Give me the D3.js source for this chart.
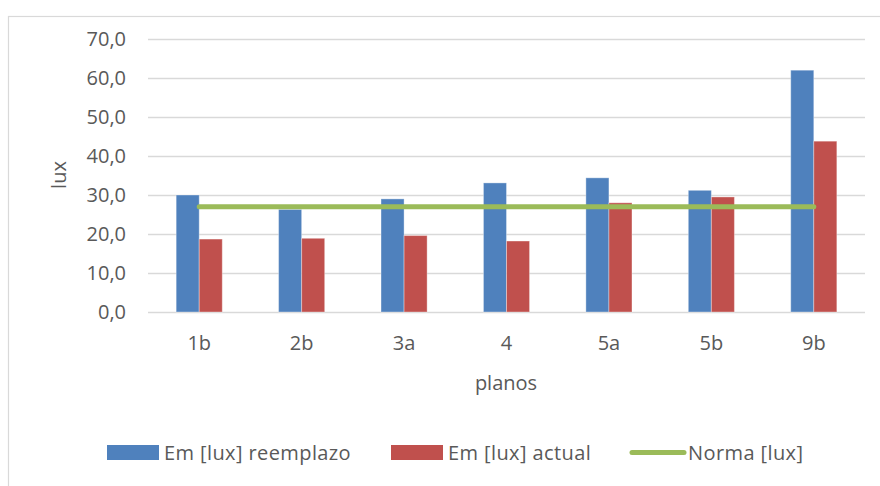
<!DOCTYPE html>
<html>
<head>
<meta charset="utf-8">
<script src="https://cdn.jsdelivr.net/npm/d3@7"></script>
<style>
  html, body { margin: 0; padding: 0; background: #fff; }
  svg { display: block; }
  text { font-family: "Open Sans", sans-serif; fill: #595959; }
</style>
</head>
<body>
<svg id="chart" width="880" height="486"></svg>
<script>
// Illuminance per plan
const categories = ["1b", "2b", "3a", "4", "5a", "5b", "9b"];
const reemplazo = [30.0, 26.3, 29.0, 33.1, 34.4, 31.2, 62.0];
const actual = [18.7, 18.9, 19.6, 18.2, 28.0, 29.5, 43.8];
const norma = [27.0, 27.0, 27.0, 27.0, 27.0, 27.0, 27.0];
const yTicks = [0, 10, 20, 30, 40, 50, 60, 70];
const seriesNames = ["Em [lux] reemplazo", "Em [lux] actual", "Norma [lux]"];
const colors = ["#4F81BD", "#C0504D", "#9BBB59"];

const svg = d3.select("#chart");
const fmt = v => d3.format(".1f")(v).replace(".", ",");
const fs = 20;

// chart frame
svg.append("rect")
  .attr("x", 8.5).attr("y", 16.5)
  .attr("width", 900).attr("height", 500)
  .attr("fill", "none").attr("stroke", "#D9D9D9").attr("stroke-width", 1.2);

const x = d3.scaleBand().domain(categories).range([148, 865])
  .paddingInner(0.55).paddingOuter(0.275);
const y = d3.scaleLinear().domain([0, 70]).range([312, 39]);

// gridlines + tick labels
const yAxis = d3.axisLeft(y).tickValues(yTicks).tickFormat(fmt)
  .tickSize(-(865 - 148)).tickPadding(22);
const gy = svg.append("g").attr("transform", "translate(148,0)").call(yAxis);
gy.select(".domain").remove();
gy.selectAll(".tick line").attr("stroke", "#D9D9D9").attr("stroke-width", 1.3);
gy.selectAll(".tick text").attr("font-size", fs).style("fill", "#595959")
  .attr("font-family", "Open Sans, sans-serif");

// category labels
const xAxis = d3.axisBottom(x).tickSize(0).tickPadding(24);
const gx = svg.append("g").attr("transform", "translate(0,312)").call(xAxis);
gx.select(".domain").remove();
gx.selectAll(".tick text").attr("font-size", fs).style("fill", "#595959")
  .attr("font-family", "Open Sans, sans-serif");

// bars
const bw = x.bandwidth() / 2;
const bars = svg.append("g");
bars.selectAll("rect.r").data(categories).join("rect")
  .attr("x", d => x(d)).attr("width", bw)
  .attr("y", (d, i) => y(reemplazo[i]))
  .attr("height", (d, i) => y(0) - y(reemplazo[i]))
  .attr("fill", colors[0]).attr("stroke", "#fff").attr("stroke-opacity", 0.35).attr("stroke-width", 1);
bars.selectAll("rect.a").data(categories).join("rect")
  .attr("x", d => x(d) + bw).attr("width", bw)
  .attr("y", (d, i) => y(actual[i]))
  .attr("height", (d, i) => y(0) - y(actual[i]))
  .attr("fill", colors[1]).attr("stroke", "#fff").attr("stroke-opacity", 0.35).attr("stroke-width", 1);

// norm line
const line = d3.line()
  .x((d, i) => x(categories[i]) + x.bandwidth() / 2)
  .y(d => y(d));
svg.append("path").datum(norma)
  .attr("d", line).attr("fill", "none")
  .attr("stroke", colors[2]).attr("stroke-width", 5).attr("stroke-linecap", "round");

// axis titles
svg.append("text").attr("transform", "translate(66,175) rotate(-90)")
  .attr("text-anchor", "middle").attr("font-size", fs).text("lux");
svg.append("text").attr("x", 506).attr("y", 390)
  .attr("text-anchor", "middle").attr("font-size", fs).text("planos");

// legend
const lg = svg.append("g");
const legendItems = [
  { sx: 107, tx: 164 },
  { sx: 391, tx: 448 },
  { sx: 630, tx: 688 }
];
legendItems.forEach((it, i) => {
  if (i < 2) {
    lg.append("rect").attr("x", it.sx).attr("y", 445).attr("width", 52).attr("height", 15)
      .attr("fill", colors[i]);
  } else {
    lg.append("line").attr("x1", it.sx + 2).attr("x2", it.sx + 54).attr("y1", 452.5).attr("y2", 452.5)
      .attr("stroke", colors[2]).attr("stroke-width", 5).attr("stroke-linecap", "round");
  }
  lg.append("text").attr("x", it.tx).attr("y", 459.5).attr("font-size", fs)
    .attr("letter-spacing", 0.4).text(seriesNames[i]);
});
</script>
</body>
</html>
